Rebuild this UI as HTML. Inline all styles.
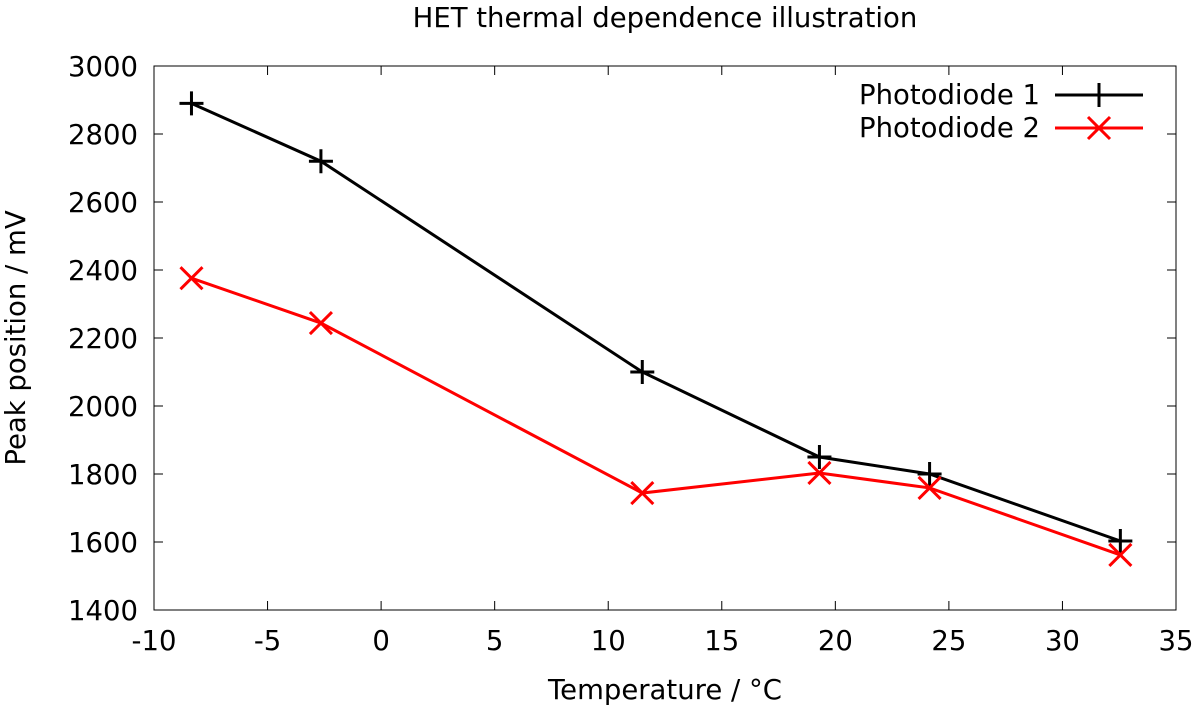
<!DOCTYPE html>
<html><head><meta charset="utf-8"><style>
html,body{margin:0;padding:0;background:#fff;}
svg{display:block;font-family:"DejaVu Sans","Liberation Sans",sans-serif;}
</style></head><body>
<svg id="chart" width="1200" height="711" viewBox="0 0 1200 711" xmlns="http://www.w3.org/2000/svg">
<text x="665" y="27" font-size="27.5" text-anchor="middle">HET thermal dependence illustration</text>
<text x="665" y="699" font-size="27.5" text-anchor="middle">Temperature / °C</text>
<text transform="translate(25,338) rotate(-90)" font-size="27.5" text-anchor="middle">Peak position / mV</text>
<g id="axes"></g>
<g id="series"></g>
<g id="legend">
<text x="1040" y="104" font-size="27.5" text-anchor="end">Photodiode 1</text>
<line x1="1055" y1="95" x2="1143" y2="95" stroke="#000" stroke-width="3"/>
<path d="M1087,95h24M1099,83v24" stroke="#000" stroke-width="3"/>
<text x="1040" y="137" font-size="27.5" text-anchor="end">Photodiode 2</text>
<line x1="1055" y1="128" x2="1143" y2="128" stroke="#f00" stroke-width="3"/>
<path d="M1088,117l22,22M1088,139l22,-22" stroke="#f00" stroke-width="3"/>
</g>
</svg>
<script>
const temps=[-8.35,-2.65,11.5,19.3,24.15,32.55];
const pd1=[2890,2720,2100,1850,1800,1603];
const pd2=[2376,2244,1744,1803,1759,1562];
const xTicks=[-10,-5,0,5,10,15,20,25,30,35];
const yTicks=[1400,1600,1800,2000,2200,2400,2600,2800,3000];
const NS="http://www.w3.org/2000/svg";
const L=154,R=1176,T=66,B=610;
function xs(v){return L+(v+10)/45*(R-L);}
function ys(v){return B-(v-1400)/1600*(B-T);}
function mk(tag,attrs,parent){const e=document.createElementNS(NS,tag);for(const k in attrs)e.setAttribute(k,attrs[k]);parent.appendChild(e);return e;}
const ax=document.getElementById('axes');
const frame=mk('rect',{x:L,y:T,width:R-L,height:B-T,fill:'none',stroke:'#000','stroke-width':1},ax);


xTicks.forEach(t=>{const x=xs(t);
const a=mk('path',{d:`M${x},${B}v-9M${x},${T}v9`,stroke:'#000','stroke-width':1},ax);


const l=mk('text',{x:x,y:B+40,'font-size':27.5,'text-anchor':'middle'},ax);l.textContent=t;

});
yTicks.forEach(t=>{const y=ys(t);
const a=mk('path',{d:`M${L},${y}h9M${R},${y}h-9`,stroke:'#000','stroke-width':1},ax);


const l=mk('text',{x:L-16,y:y+10,'font-size':27.5,'text-anchor':'end'},ax);l.textContent=t;

});
const sg=document.getElementById('series');
function series(vals,color,name,cross){
const pts=temps.map((t,i)=>xs(t)+','+ys(vals[i])).join(' ');
const pl=mk('polyline',{points:pts,fill:'none',stroke:color,'stroke-width':3},sg);


temps.forEach((t,i)=>{const x=xs(t),y=ys(vals[i]);
const d=cross?`M${x-11},${y-11}l22,22M${x-11},${y+11}l22,-22`:`M${x-12},${y}h24M${x},${y-12}v24`;
const p=mk('path',{d:d,stroke:color,'stroke-width':3},sg);

});}
series(pd1,'#000','photodiode-1',false);
series(pd2,'#f00','photodiode-2',true);
</script>
</body></html>
